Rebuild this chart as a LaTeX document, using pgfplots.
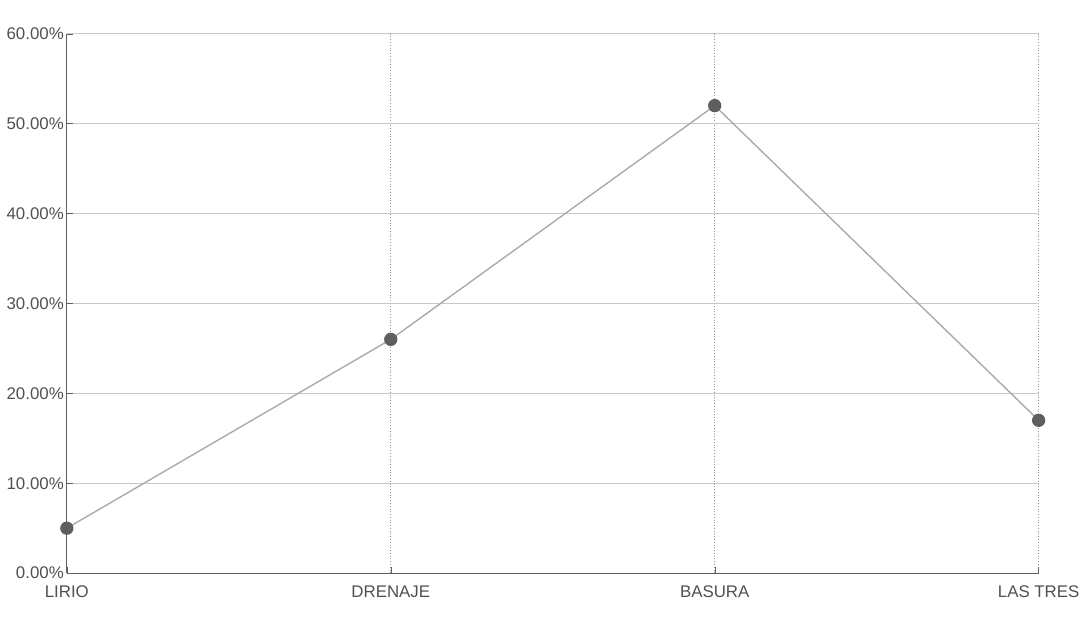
\documentclass[border=0pt]{standalone}
\usepackage{fontspec}
\setmainfont{Liberation Sans}
\usepackage{pgfplots}
\pgfplotsset{compat=1.18}
\definecolor{txt}{RGB}{80,80,80}
\definecolor{grid}{RGB}{200,200,200}
\definecolor{vgrid}{RGB}{150,150,150}
\definecolor{lin}{RGB}{170,170,170}
\definecolor{mk}{RGB}{95,95,95}
\begin{document}
\begin{tikzpicture}
\begin{axis}[
  scale only axis,
  width=490pt, height=272pt,
  xmin=0, xmax=3, ymin=0, ymax=0.6,
  xtick={0,1,2,3},
  xticklabels={LIRIO,DRENAJE,BASURA,LAS TRES},
  ytick={0,0.1,0.2,0.3,0.4,0.5,0.6},
  yticklabels={0.00\%,10.00\%,20.00\%,30.00\%,40.00\%,50.00\%,60.00\%},
  axis x line*=bottom, axis y line*=left,
  axis line style={color=mk, line width=0.5pt},
  x axis line style={-}, y axis line style={-},
  tick style={color=mk},
  major tick length=3pt,
  xtick pos=bottom, ytick pos=left,
  ymajorgrids, xmajorgrids,
  y grid style={color=grid, line width=0.6pt},
  x grid style={color=vgrid, densely dotted, line width=0.6pt},
  ticklabel style={font=\fontsize{8.5}{9}\selectfont, text=txt},
  yticklabel style={xshift=2pt},
  xticklabel style={yshift=-3pt},
  clip=false,
]
\addplot[color=lin, line width=0.7pt, mark=*, mark size=3pt,
  mark options={fill=mk, draw=mk}] coordinates {
  (0,0.05) (1,0.26) (2,0.52) (3,0.17)
};
\path (rel axis cs:0,1) -- ++(0,17pt);
\path (rel axis cs:0,0) -- ++(0,-28pt);
\end{axis}
\end{tikzpicture}
\end{document}
